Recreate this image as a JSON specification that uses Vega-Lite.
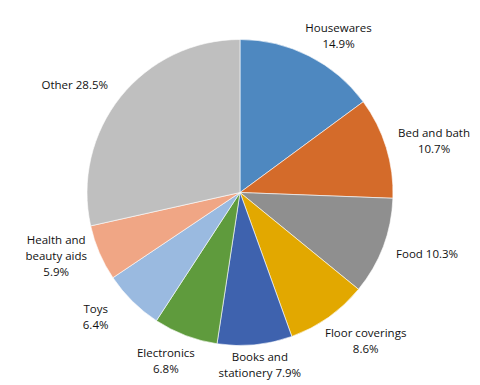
{
  "$schema": "https://vega.github.io/schema/vega-lite/v6.json",
  "width": 480,
  "height": 385,
  "autosize": {"type": "none"},
  "padding": 0,
  "background": "white",
  "data": {"values": [
    {"i": 1, "cat": "Housewares", "pct": 14.9, "label": "Housewares\n14.9%"},
    {"i": 2, "cat": "Bed and bath", "pct": 10.7, "label": "Bed and bath\n10.7%"},
    {"i": 3, "cat": "Food", "pct": 10.3, "label": "Food 10.3%"},
    {"i": 4, "cat": "Floor coverings", "pct": 8.6, "label": "Floor coverings\n8.6%"},
    {"i": 5, "cat": "Books and stationery", "pct": 7.9, "label": "Books and\nstationery 7.9%"},
    {"i": 6, "cat": "Electronics", "pct": 6.8, "label": "Electronics\n6.8%"},
    {"i": 7, "cat": "Toys", "pct": 6.4, "label": "Toys\n6.4%"},
    {"i": 8, "cat": "Health and beauty aids", "pct": 5.9, "label": "Health and\nbeauty aids\n5.9%"},
    {"i": 9, "cat": "Other", "pct": 28.5, "label": "Other 28.5%"}
  ]},
  "encoding": {
    "theta": {"field": "pct", "type": "quantitative", "stack": true},
    "order": {"field": "i", "type": "quantitative"}
  },
  "layer": [
    {
      "mark": {"type": "arc", "outerRadius": 153, "stroke": "white", "strokeWidth": 0.6},
      "encoding": {
        "color": {
          "field": "cat", "type": "nominal", "legend": null,
          "scale": {
            "domain": ["Housewares", "Bed and bath", "Food", "Floor coverings", "Books and stationery", "Electronics", "Toys", "Health and beauty aids", "Other"],
            "range": ["#4E88C0", "#D46B2A", "#8F8F8F", "#E2A800", "#3E62AE", "#5F9B3D", "#9ABAE0", "#F0A685", "#BFBFBF"]
          }
        }
      }
    },
    {"mark": {"type": "text", "radius": 174, "dx": 20, "dy": -8, "fontSize": 11.5, "font": "Open Sans", "color": "#111111", "lineBreak": "\n", "lineHeight": 16, "align": "center", "baseline": "middle"},
     "encoding": {"text": {"condition": {"test": "datum.i == 1", "field": "label"}, "value": ""}}},
    {"mark": {"type": "text", "radius": 203, "dy": 1, "fontSize": 11.5, "font": "Open Sans", "color": "#111111", "lineBreak": "\n", "lineHeight": 16, "align": "center", "baseline": "middle"},
     "encoding": {"text": {"condition": {"test": "datum.i == 2", "field": "label"}, "value": ""}}},
    {"mark": {"type": "text", "radius": 200, "dy": -8, "fontSize": 11.5, "font": "Open Sans", "color": "#111111", "lineBreak": "\n", "lineHeight": 16, "align": "center", "baseline": "middle"},
     "encoding": {"text": {"condition": {"test": "datum.i == 3", "field": "label"}, "value": ""}}},
    {"mark": {"type": "text", "radius": 183, "dx": 20, "dy": -8, "fontSize": 11.5, "font": "Open Sans", "color": "#111111", "lineBreak": "\n", "lineHeight": 16, "align": "center", "baseline": "middle"},
     "encoding": {"text": {"condition": {"test": "datum.i == 4", "field": "label"}, "value": ""}}},
    {"mark": {"type": "text", "radius": 173, "dx": 3, "dy": -7, "fontSize": 11.5, "font": "Open Sans", "color": "#111111", "lineBreak": "\n", "lineHeight": 16, "align": "center", "baseline": "middle"},
     "encoding": {"text": {"condition": {"test": "datum.i == 5", "field": "label"}, "value": ""}}},
    {"mark": {"type": "text", "radius": 180, "dx": -10, "dy": -7, "fontSize": 11.5, "font": "Open Sans", "color": "#111111", "lineBreak": "\n", "lineHeight": 16, "align": "center", "baseline": "middle"},
     "encoding": {"text": {"condition": {"test": "datum.i == 6", "field": "label"}, "value": ""}}},
    {"mark": {"type": "text", "radius": 177, "dx": -20, "dy": -8, "fontSize": 11.5, "font": "Open Sans", "color": "#111111", "lineBreak": "\n", "lineHeight": 16, "align": "center", "baseline": "middle"},
     "encoding": {"text": {"condition": {"test": "datum.i == 7", "field": "label"}, "value": ""}}},
    {"mark": {"type": "text", "radius": 200, "dy": -30, "fontSize": 11.5, "font": "Open Sans", "color": "#111111", "lineBreak": "\n", "lineHeight": 16, "align": "center", "baseline": "middle"},
     "encoding": {"text": {"condition": {"test": "datum.i == 8", "field": "label"}, "value": ""}}},
    {"mark": {"type": "text", "radius": 172, "dx": -31, "dy": 1, "fontSize": 11.5, "font": "Open Sans", "color": "#111111", "lineBreak": "\n", "lineHeight": 16, "align": "center", "baseline": "middle"},
     "encoding": {"text": {"condition": {"test": "datum.i == 9", "field": "label"}, "value": ""}}}
  ]
}
